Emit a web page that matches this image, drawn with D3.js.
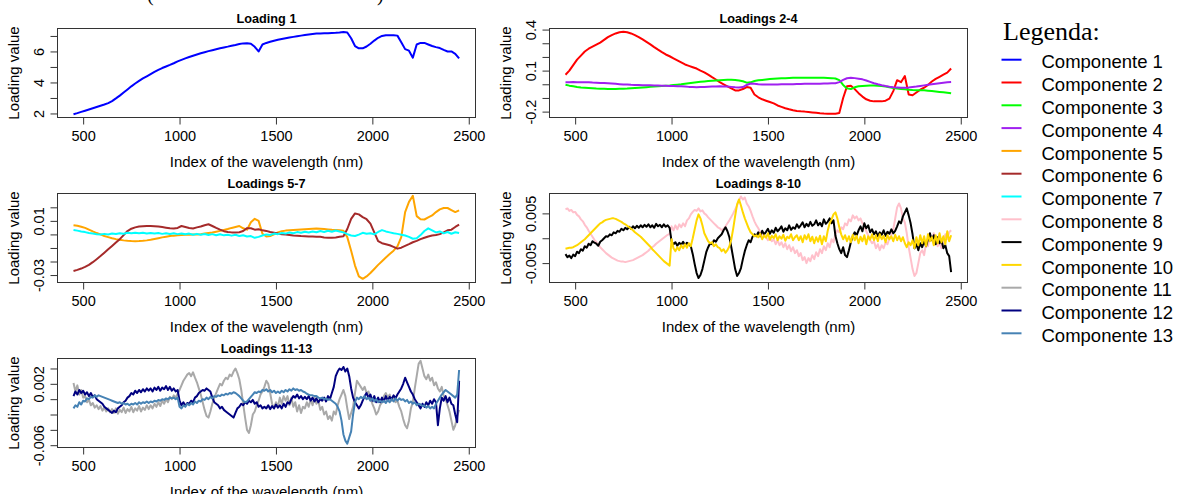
<!DOCTYPE html>
<html>
<head>
<meta charset="utf-8">
<script src="https://cdn.jsdelivr.net/npm/d3@7"></script>
<style>
  html, body { margin: 0; padding: 0; background: #fff; }
  svg { display: block; }
  text { font-family: "Liberation Sans", Arial, sans-serif; fill: #000; }
</style>
</head>
<body>
<script>
// Wavelength grids (nm): 20 nm steps for the smooth loadings, 10 nm for the noisy ones
const wavelengths = d3.range(450, 2451, 20);
const wavelengthsFine = d3.range(450, 2451, 10);

const comp1 = [1.95,2.02,2.10,2.18,2.26,2.34,2.42,2.50,2.58,2.67,
2.80,2.97,3.15,3.35,3.55,3.75,3.93,4.10,4.26,4.40,
4.54,4.68,4.81,4.93,5.03,5.13,5.24,5.36,5.46,5.55,
5.64,5.72,5.80,5.88,5.95,6.02,6.08,6.14,6.20,6.26,
6.31,6.37,6.42,6.48,6.52,6.53,6.50,6.30,6.00,6.45,
6.55,6.62,6.69,6.75,6.80,6.85,6.90,6.94,6.98,7.02,
7.06,7.10,7.13,7.15,7.16,7.17,7.18,7.19,7.20,7.22,
7.26,7.22,6.85,6.35,6.20,6.20,6.32,6.50,6.70,6.88,
7.00,7.05,7.05,7.05,7.02,6.60,6.15,6.05,5.60,6.45,
6.55,6.55,6.45,6.35,6.28,6.22,6.10,6.00,6.00,5.85,
5.55];

const comp2 = [0.070,0.100,0.140,0.180,0.210,0.240,0.260,0.275,0.290,0.305,
0.325,0.345,0.360,0.372,0.380,0.384,0.380,0.372,0.360,0.345,
0.328,0.310,0.292,0.272,0.253,0.235,0.218,0.205,0.190,0.175,
0.160,0.145,0.135,0.125,0.115,0.100,0.087,0.070,0.052,0.035,
0.015,0.000,-0.015,-0.030,-0.045,-0.045,-0.035,-0.020,-0.025,-0.075,
-0.095,-0.110,-0.120,-0.130,-0.140,-0.155,-0.165,-0.175,-0.183,-0.190,
-0.195,-0.198,-0.200,-0.203,-0.206,-0.209,-0.212,-0.214,-0.215,-0.215,
-0.215,-0.210,-0.100,-0.015,-0.010,-0.035,-0.065,-0.090,-0.110,-0.120,
-0.125,-0.125,-0.125,-0.120,-0.105,-0.050,0.030,0.015,0.060,-0.075,
-0.080,-0.060,-0.040,-0.025,-0.005,0.020,0.040,0.055,0.070,0.085,
0.115];

const comp3 = [-0.003,-0.010,-0.015,-0.020,-0.023,-0.025,-0.027,-0.029,-0.031,-0.032,
-0.033,-0.034,-0.034,-0.034,-0.033,-0.032,-0.031,-0.029,-0.027,-0.025,
-0.023,-0.021,-0.019,-0.017,-0.015,-0.013,-0.011,-0.009,-0.006,-0.003,
0.000,0.004,0.008,0.012,0.015,0.018,0.021,0.024,0.026,0.028,
0.030,0.032,0.033,0.033,0.032,0.028,0.022,0.012,0.014,0.024,
0.029,0.032,0.035,0.038,0.040,0.042,0.044,0.045,0.046,0.047,
0.047,0.048,0.048,0.048,0.048,0.048,0.047,0.047,0.046,0.045,
0.042,0.030,-0.005,-0.030,-0.035,-0.022,-0.015,-0.012,-0.010,-0.009,
-0.009,-0.010,-0.012,-0.016,-0.022,-0.027,-0.031,-0.034,-0.037,-0.040,
-0.042,-0.043,-0.043,-0.044,-0.047,-0.050,-0.053,-0.056,-0.059,-0.062,
-0.066];

const comp4 = [0.015,0.015,0.016,0.015,0.015,0.014,0.015,0.013,0.012,0.010,
0.009,0.007,0.005,0.003,0.001,-0.001,-0.002,-0.004,-0.005,-0.006,
-0.007,-0.008,-0.008,-0.009,-0.009,-0.010,-0.011,-0.012,-0.013,-0.014,
-0.015,-0.017,-0.019,-0.020,-0.021,-0.020,-0.019,-0.018,-0.017,-0.016,
-0.015,-0.016,-0.017,-0.019,-0.022,-0.024,-0.020,-0.005,0.006,0.004,
0.001,-0.001,-0.002,-0.002,-0.002,-0.001,0.000,0.000,0.001,0.001,
0.002,0.002,0.003,0.003,0.003,0.004,0.004,0.005,0.006,0.007,
0.008,0.016,0.032,0.044,0.047,0.045,0.041,0.036,0.028,0.018,
0.008,0.000,-0.007,-0.013,-0.018,-0.021,-0.023,-0.025,-0.026,-0.024,
-0.020,-0.017,-0.012,-0.008,-0.004,0.000,0.004,0.008,0.011,0.014,
0.016];

const comp5 = [0.0068,0.0064,0.0057,0.0048,0.0035,0.0022,0.0010,0.0000,-0.0012,-0.0020,
-0.0028,-0.0035,-0.0040,-0.0044,-0.0047,-0.0049,-0.0050,-0.0049,-0.0047,-0.0044,
-0.0040,-0.0034,-0.0028,-0.0022,-0.0017,-0.0012,-0.0009,-0.0007,-0.0005,-0.0003,
-0.0002,0.0000,0.0000,0.0002,0.0006,0.0010,0.0014,0.0020,0.0026,0.0033,
0.0040,0.0048,0.0055,0.0062,0.0045,0.0035,0.0090,0.0115,0.0100,0.0005,
-0.0015,-0.0012,0.0000,0.0015,0.0024,0.0028,0.0030,0.0032,0.0034,0.0036,
0.0038,0.0040,0.0042,0.0043,0.0042,0.0040,0.0037,0.0034,0.0032,0.0030,
0.0027,-0.0020,-0.0120,-0.0230,-0.0310,-0.0328,-0.0310,-0.0285,-0.0255,-0.0225,
-0.0198,-0.0170,-0.0145,-0.0120,-0.0088,-0.0020,0.0165,0.0240,0.0285,0.0135,
0.0112,0.0110,0.0125,0.0140,0.0165,0.0185,0.0195,0.0195,0.0180,0.0165,
0.0178];

const comp6 = [-0.0270,-0.0262,-0.0252,-0.0240,-0.0225,-0.0205,-0.0183,-0.0160,-0.0135,-0.0110,
-0.0085,-0.0060,-0.0035,-0.0005,0.0025,0.0042,0.0052,0.0058,0.0060,0.0062,
0.0062,0.0061,0.0058,0.0054,0.0050,0.0046,0.0044,0.0048,0.0062,0.0055,
0.0048,0.0044,0.0052,0.0058,0.0068,0.0075,0.0062,0.0048,0.0035,0.0024,
0.0018,0.0015,0.0014,0.0016,0.0025,0.0046,0.0045,0.0035,0.0038,0.0030,
0.0026,0.0018,0.0012,0.0006,0.0002,0.0000,-0.0004,-0.0008,-0.0010,-0.0012,
-0.0013,-0.0015,-0.0016,-0.0017,-0.0018,-0.0022,-0.0024,-0.0025,-0.0022,-0.0018,
-0.0014,0.0040,0.0115,0.0155,0.0148,0.0128,0.0112,0.0080,0.0015,-0.0050,
-0.0065,-0.0072,-0.0080,-0.0092,-0.0105,-0.0098,-0.0085,-0.0072,-0.0058,-0.0048,
-0.0035,-0.0025,-0.0015,-0.0008,-0.0005,0.0002,0.0015,0.0030,0.0035,0.0055,
0.0072];

const comp7 = [0.0033,0.0028,0.0022,0.0017,0.0010,0.0006,0.0002,0.0000,0.0004,0.0000,
0.0006,0.0003,0.0009,0.0005,0.0012,0.0008,0.0013,0.0009,0.0012,0.0007,
0.0011,0.0006,0.0010,0.0004,0.0009,0.0003,0.0008,0.0002,0.0007,0.0001,
0.0006,-0.0002,0.0004,-0.0003,0.0003,-0.0004,0.0002,-0.0006,0.0001,-0.0007,
-0.0002,-0.0009,-0.0003,-0.0012,-0.0006,-0.0015,-0.0012,-0.0025,-0.0018,-0.0008,
0.0000,-0.0004,0.0006,0.0002,0.0010,0.0006,0.0014,0.0009,0.0017,0.0012,
0.0020,0.0014,0.0022,0.0016,0.0025,0.0018,0.0027,0.0020,0.0029,0.0022,
0.0015,0.0002,-0.0008,-0.0012,-0.0002,0.0012,0.0005,0.0009,0.0000,0.0018,
0.0032,0.0022,0.0015,0.0008,0.0004,-0.0002,-0.0008,-0.0018,-0.0032,-0.0028,
-0.0005,0.0025,0.0045,0.0030,0.0015,0.0022,0.0008,0.0018,0.0005,0.0016,
0.0010];

// 10 nm loadings (components 8–13)
const comp8 = [0.0058,0.0060,0.0055,0.0057,0.0052,0.0053,0.0047,0.0044,0.0038,0.0034,0.0027,0.0022,0.0015,0.0009,0.0003,-0.0003,-0.0008,-0.0013,-0.0018,-0.0022,
-0.0026,-0.0030,-0.0033,-0.0036,-0.0039,-0.0041,-0.0043,-0.0045,-0.0046,-0.0047,-0.0047,-0.0048,-0.0047,-0.0046,-0.0045,-0.0044,-0.0042,-0.0040,-0.0038,-0.0036,
-0.0034,-0.0031,-0.0028,-0.0025,-0.0021,-0.0018,-0.0015,-0.0011,-0.0008,-0.0005,-0.0002,0.0001,0.0004,0.0007,0.0009,0.0024,0.0016,0.0026,0.0018,0.0028,
0.0022,0.0030,0.0024,0.0036,0.0040,0.0048,0.0053,0.0057,0.0055,0.0060,0.0054,0.0056,0.0050,0.0047,0.0042,0.0038,0.0034,0.0030,0.0026,0.0022,
0.0020,0.0016,0.0019,0.0024,0.0030,0.0036,0.0043,0.0050,0.0058,0.0066,0.0076,0.0084,0.0078,0.0082,0.0070,0.0064,0.0055,0.0044,0.0034,0.0026,
0.0020,0.0012,0.0010,0.0004,0.0002,-0.0004,0.0000,-0.0006,-0.0002,-0.0012,-0.0004,-0.0014,-0.0008,-0.0018,-0.0010,-0.0022,-0.0014,-0.0026,-0.0018,-0.0030,
-0.0024,-0.0036,-0.0030,-0.0044,-0.0038,-0.0050,-0.0040,-0.0046,-0.0034,-0.0042,-0.0028,-0.0036,-0.0022,-0.0030,-0.0016,-0.0024,-0.0010,-0.0018,-0.0002,-0.0008,
0.0008,0.0016,0.0012,0.0022,0.0018,0.0030,0.0026,0.0038,0.0034,0.0046,0.0040,0.0044,0.0036,0.0040,0.0030,0.0024,0.0014,0.0006,-0.0004,-0.0010,
-0.0006,-0.0020,-0.0012,-0.0024,-0.0014,-0.0020,-0.0008,-0.0012,0.0000,0.0006,0.0018,0.0040,0.0062,0.0070,0.0060,0.0040,0.0032,0.0010,-0.0018,-0.0040,
-0.0062,-0.0076,-0.0070,-0.0050,-0.0030,-0.0024,-0.0034,-0.0010,-0.0016,0.0004,-0.0004,0.0010,-0.0006,-0.0016,-0.0008,-0.0020,-0.0004,0.0008,-0.0002,0.0012,
0.0016];

const comp9 = [-0.0032,-0.0038,-0.0035,-0.0040,-0.0033,-0.0036,-0.0027,-0.0030,-0.0022,-0.0025,-0.0016,-0.0019,-0.0011,-0.0014,-0.0006,-0.0009,-0.0011,-0.0015,-0.0007,-0.0004,
0.0000,0.0004,0.0003,0.0008,0.0006,0.0012,0.0010,0.0015,0.0013,0.0019,0.0016,0.0021,0.0018,0.0023,0.0019,0.0024,0.0020,0.0025,0.0021,0.0026,
0.0022,0.0027,0.0023,0.0028,0.0022,0.0026,0.0021,0.0029,0.0024,0.0027,0.0022,0.0028,0.0023,0.0026,0.0021,-0.0006,-0.0012,-0.0008,-0.0015,-0.0009,
-0.0013,-0.0007,-0.0014,-0.0009,-0.0012,-0.0016,-0.0032,-0.0052,-0.0070,-0.0080,-0.0074,-0.0062,-0.0045,-0.0028,-0.0018,-0.0010,-0.0012,-0.0004,-0.0007,0.0000,
0.0004,0.0008,0.0016,0.0022,0.0014,0.0002,-0.0018,-0.0040,-0.0062,-0.0076,-0.0070,-0.0060,-0.0042,-0.0026,-0.0014,-0.0004,-0.0008,0.0003,0.0008,0.0004,
0.0012,0.0004,0.0015,0.0008,0.0013,0.0019,0.0009,0.0016,0.0011,0.0021,0.0014,0.0018,0.0024,0.0013,0.0020,0.0016,0.0026,0.0017,0.0022,0.0019,
0.0028,0.0021,0.0026,0.0032,0.0022,0.0029,0.0024,0.0033,0.0025,0.0028,0.0036,0.0026,0.0031,0.0024,0.0038,0.0029,0.0033,0.0040,0.0030,0.0036,
0.0005,-0.0010,-0.0022,-0.0030,-0.0018,-0.0034,-0.0038,-0.0024,-0.0008,0.0004,0.0012,0.0006,0.0016,0.0024,0.0014,0.0030,0.0020,0.0026,0.0012,0.0018,
0.0008,0.0014,0.0004,0.0012,0.0007,0.0016,0.0005,0.0013,0.0009,0.0018,0.0010,0.0015,0.0024,0.0034,0.0030,0.0044,0.0052,0.0060,0.0046,0.0030,
0.0008,-0.0020,-0.0012,-0.0024,-0.0010,-0.0018,-0.0006,-0.0016,-0.0002,0.0010,-0.0004,0.0006,-0.0012,0.0002,-0.0010,-0.0004,-0.0020,-0.0014,-0.0030,-0.0036,
-0.0068];

const comp10 = [-0.0021,-0.0020,-0.0019,-0.0019,-0.0018,-0.0016,-0.0014,-0.0011,-0.0008,-0.0005,-0.0002,0.0002,0.0006,0.0010,0.0014,0.0018,0.0022,0.0026,0.0030,0.0032,
0.0035,0.0037,0.0038,0.0039,0.0040,0.0040,0.0039,0.0037,0.0035,0.0033,0.0030,0.0028,0.0025,0.0022,0.0019,0.0016,0.0012,0.0009,0.0006,0.0003,
-0.0001,-0.0005,-0.0009,-0.0013,-0.0017,-0.0022,-0.0026,-0.0030,-0.0034,-0.0038,-0.0042,-0.0046,-0.0049,-0.0052,-0.0055,-0.0002,-0.0020,-0.0026,-0.0018,-0.0024,
-0.0014,-0.0020,-0.0012,-0.0019,-0.0010,-0.0016,0.0000,0.0018,0.0036,0.0048,0.0040,0.0026,0.0010,0.0002,-0.0006,-0.0010,-0.0008,-0.0016,-0.0012,-0.0018,
-0.0020,-0.0026,-0.0022,-0.0029,-0.0024,-0.0016,-0.0002,0.0020,0.0045,0.0068,0.0078,0.0066,0.0052,0.0040,0.0030,0.0020,0.0012,0.0008,0.0004,0.0006,
0.0002,0.0009,-0.0002,0.0006,0.0001,0.0010,-0.0003,0.0005,0.0000,0.0008,-0.0004,0.0004,-0.0001,0.0007,-0.0005,0.0003,0.0000,0.0008,-0.0004,0.0002,
0.0006,-0.0004,0.0004,-0.0008,0.0006,-0.0002,0.0008,-0.0006,0.0003,-0.0010,0.0002,-0.0007,0.0005,-0.0012,0.0004,-0.0006,0.0015,0.0030,0.0038,0.0048,
0.0052,0.0040,0.0022,0.0008,-0.0002,0.0006,-0.0006,0.0004,-0.0008,0.0007,-0.0004,0.0005,-0.0010,0.0003,-0.0006,0.0006,-0.0012,0.0004,-0.0003,0.0008,
-0.0004,0.0006,-0.0006,0.0008,-0.0002,0.0005,-0.0008,0.0006,-0.0002,0.0004,-0.0006,0.0007,-0.0004,0.0004,-0.0006,0.0002,-0.0010,-0.0018,-0.0008,-0.0014,
-0.0004,-0.0020,0.0002,-0.0014,0.0006,-0.0010,0.0004,-0.0016,0.0008,-0.0006,0.0002,-0.0014,0.0006,-0.0010,0.0010,-0.0008,0.0004,-0.0012,0.0014,-0.0006,
0.0006];

const comp11 = [0.0021,0.0010,0.0018,0.0006,0.0012,0.0002,0.0004,-0.0004,-0.0001,-0.0008,-0.0005,-0.0011,-0.0008,-0.0013,-0.0009,-0.0015,-0.0011,-0.0016,-0.0012,-0.0017,
-0.0013,-0.0018,-0.0012,-0.0019,-0.0014,-0.0017,-0.0011,-0.0018,-0.0013,-0.0016,-0.0010,-0.0017,-0.0012,-0.0015,-0.0009,-0.0016,-0.0011,-0.0014,-0.0008,-0.0013,
-0.0008,-0.0012,-0.0006,-0.0010,-0.0004,-0.0009,-0.0002,-0.0006,0.0000,-0.0004,0.0003,0.0000,0.0005,0.0002,0.0007,0.0012,0.0018,0.0024,0.0028,0.0032,
0.0034,0.0030,0.0035,0.0028,0.0022,0.0014,0.0006,-0.0004,-0.0014,-0.0022,-0.0024,-0.0016,-0.0006,0.0002,0.0008,0.0014,0.0020,0.0018,0.0024,0.0028,
0.0026,0.0032,0.0030,0.0036,0.0040,0.0034,0.0026,0.0012,-0.0006,-0.0024,-0.0040,-0.0044,-0.0034,-0.0020,-0.0016,-0.0008,-0.0002,0.0006,0.0010,0.0016,
0.0024,0.0020,0.0008,-0.0006,-0.0012,-0.0004,-0.0010,0.0002,-0.0006,0.0004,-0.0002,0.0004,-0.0008,0.0002,-0.0010,-0.0004,-0.0016,-0.0008,-0.0018,-0.0010,
-0.0012,-0.0004,-0.0010,0.0000,-0.0008,0.0002,-0.0006,-0.0002,-0.0014,-0.0010,-0.0020,-0.0016,-0.0026,-0.0022,-0.0028,-0.0016,-0.0020,-0.0008,0.0000,0.0006,
0.0012,0.0004,-0.0012,-0.0026,-0.0018,-0.0010,0.0008,0.0024,0.0020,0.0016,0.0012,0.0016,0.0008,0.0010,0.0002,-0.0006,-0.0012,-0.0020,-0.0016,-0.0008,
-0.0004,0.0004,0.0008,0.0002,0.0006,-0.0002,0.0004,-0.0004,-0.0002,-0.0010,-0.0016,-0.0026,-0.0034,-0.0038,-0.0028,-0.0012,-0.0004,0.0014,0.0030,0.0046,
0.0050,0.0040,0.0030,0.0026,0.0032,0.0024,0.0028,0.0018,0.0022,0.0014,0.0010,0.0016,0.0004,0.0000,-0.0008,-0.0016,-0.0028,-0.0040,-0.0034,-0.0022,
-0.0014];

const comp12 = [0.0004,0.0010,0.0006,0.0012,0.0008,0.0011,0.0006,0.0009,0.0004,0.0008,0.0003,0.0005,0.0000,-0.0002,-0.0004,-0.0006,-0.0010,-0.0012,-0.0014,-0.0016,
-0.0018,-0.0015,-0.0017,-0.0012,-0.0010,-0.0008,-0.0004,-0.0002,0.0002,0.0004,0.0008,0.0006,0.0011,0.0008,0.0012,0.0009,0.0013,0.0010,0.0014,0.0011,
0.0014,0.0010,0.0015,0.0012,0.0016,0.0011,0.0015,0.0013,0.0017,0.0012,0.0016,0.0011,0.0014,0.0010,0.0012,-0.0002,-0.0008,-0.0004,-0.0009,-0.0005,
-0.0006,-0.0002,-0.0004,0.0002,0.0004,0.0008,0.0010,0.0012,0.0011,0.0014,0.0012,0.0010,0.0002,-0.0004,-0.0006,-0.0008,-0.0012,-0.0010,-0.0014,-0.0016,
-0.0018,-0.0020,-0.0022,-0.0024,-0.0018,-0.0012,-0.0010,-0.0006,-0.0008,-0.0004,-0.0006,-0.0002,-0.0004,-0.0001,-0.0006,-0.0004,-0.0010,-0.0008,-0.0012,-0.0010,
-0.0012,-0.0008,-0.0013,-0.0009,-0.0012,-0.0007,-0.0011,-0.0008,-0.0012,-0.0006,-0.0010,-0.0004,-0.0006,0.0000,0.0004,0.0002,0.0006,0.0001,0.0004,0.0000,
0.0003,0.0000,0.0004,-0.0002,0.0002,-0.0003,0.0001,-0.0004,0.0000,-0.0002,0.0002,-0.0003,0.0004,0.0000,0.0008,0.0016,0.0030,0.0036,0.0040,0.0038,
0.0042,0.0036,0.0040,0.0030,0.0014,0.0002,-0.0004,-0.0008,-0.0012,-0.0008,-0.0002,0.0004,0.0008,0.0002,0.0006,-0.0002,0.0004,-0.0004,0.0002,-0.0004,
0.0002,-0.0003,0.0004,-0.0002,0.0003,0.0000,0.0005,0.0001,0.0006,0.0010,0.0014,0.0020,0.0028,0.0022,0.0016,0.0010,0.0006,0.0000,-0.0004,-0.0008,
-0.0012,-0.0006,-0.0010,-0.0004,-0.0008,-0.0002,-0.0006,0.0000,-0.0004,-0.0034,-0.0012,0.0002,-0.0002,0.0004,-0.0004,0.0002,-0.0006,-0.0008,-0.0020,-0.0030,
0.0024];

const comp13 = [-0.0012,-0.0008,-0.0010,-0.0004,-0.0007,-0.0002,-0.0003,0.0001,0.0000,0.0003,0.0002,0.0005,0.0003,0.0005,0.0004,0.0003,0.0002,0.0001,0.0000,-0.0001,
-0.0002,-0.0003,-0.0004,-0.0005,-0.0004,-0.0006,-0.0005,-0.0007,-0.0006,-0.0008,-0.0006,-0.0007,-0.0005,-0.0007,-0.0004,-0.0006,-0.0004,-0.0005,-0.0003,-0.0005,
-0.0003,-0.0004,-0.0002,-0.0003,-0.0001,-0.0002,0.0000,-0.0001,0.0001,0.0000,0.0002,0.0001,0.0002,0.0000,0.0002,-0.0010,-0.0012,-0.0008,-0.0010,-0.0006,
-0.0008,-0.0005,-0.0007,-0.0003,-0.0005,-0.0002,-0.0003,0.0000,-0.0001,0.0002,0.0000,0.0003,0.0001,0.0004,0.0003,0.0005,0.0004,0.0006,0.0005,0.0007,
0.0006,0.0008,0.0007,0.0009,0.0008,0.0006,0.0004,0.0001,-0.0002,-0.0004,-0.0003,0.0000,0.0003,0.0006,0.0009,0.0008,0.0010,0.0009,0.0012,0.0011,
0.0013,0.0010,0.0012,0.0009,0.0011,0.0008,0.0010,0.0008,0.0011,0.0009,0.0012,0.0010,0.0013,0.0011,0.0014,0.0012,0.0013,0.0011,0.0012,0.0010,
0.0009,0.0007,0.0006,0.0005,0.0005,0.0004,0.0004,0.0002,0.0001,0.0002,0.0000,0.0001,-0.0001,0.0000,-0.0002,-0.0004,-0.0006,-0.0010,-0.0016,-0.0028,
-0.0046,-0.0054,-0.0058,-0.0050,-0.0042,-0.0020,-0.0004,0.0002,0.0000,0.0003,0.0001,0.0004,0.0000,0.0002,-0.0002,0.0001,-0.0003,0.0000,-0.0004,-0.0002,
-0.0004,-0.0002,-0.0005,-0.0001,-0.0004,0.0000,-0.0003,0.0001,-0.0002,0.0001,-0.0001,0.0000,-0.0003,-0.0001,-0.0005,-0.0003,-0.0006,-0.0004,-0.0008,-0.0006,
-0.0007,-0.0009,-0.0008,-0.0011,-0.0009,-0.0012,-0.0010,-0.0012,-0.0006,-0.0002,0.0002,0.0006,0.0009,0.0012,0.0010,0.0008,0.0006,0.0004,0.0002,0.0006,
0.0038];

const components = [comp1, comp2, comp3, comp4, comp5, comp6, comp7,
                    comp8, comp9, comp10, comp11, comp12, comp13];
const componentGrids = components.map((_, i) => i < 7 ? wavelengths : wavelengthsFine);
const componentNames = components.map((_, i) => "Componente " + (i + 1));
const componentColors = ["#0000FF", "#FF0000", "#00FF00", "#A020F0", "#FFA500",
  "#A52A2A", "#00FFFF", "#FFC0CB", "#000000", "#FFD700", "#A9A9A9", "#000080", "#4682B4"];

// Axis ticks
const xTicks = [500, 1000, 1500, 2000, 2500];
const yTicks1 = [2, 3, 4, 5, 6, 7];
const yLabels1 = ["2", "", "4", "", "6", ""];
const yTicks2 = [-0.2, -0.1, 0, 0.1, 0.2, 0.3, 0.4];
const yLabels2 = ["-0.2", "", "", "0.1", "", "", "0.4"];
const yTicks3 = [-0.03, -0.02, -0.01, 0, 0.01, 0.02];
const yLabels3 = ["-0.03", "", "", "", "0.01", ""];
const yTicks4 = [-0.005, 0, 0.005];
const yLabels4 = ["-0.005", "", "0.005"];
const yTicks5 = [-0.006, -0.004, -0.002, 0, 0.002, 0.004];
const yLabels5 = ["-0.006", "", "", "", "0.002", ""];

const panels = [
  { title: "Loading 1",      comps: [0],         col: 0, row: 0, yDomain: [1.74, 7.48],       yTicks: yTicks1, yLabels: yLabels1 },
  { title: "Loadings 2-4",   comps: [1, 2, 3],   col: 1, row: 0, yDomain: [-0.243, 0.408],    yTicks: yTicks2, yLabels: yLabels2 },
  { title: "Loadings 5-7",   comps: [4, 5, 6],   col: 0, row: 1, yDomain: [-0.0355, 0.0302],  yTicks: yTicks3, yLabels: yLabels3 },
  { title: "Loadings 8-10",  comps: [7, 8, 9],   col: 1, row: 1, yDomain: [-0.0089, 0.0090],  yTicks: yTicks4, yLabels: yLabels4 },
  { title: "Loadings 11-13", comps: [10, 11, 12], col: 0, row: 2, yDomain: [-0.0063, 0.0053], yTicks: yTicks5, yLabels: yLabels5 }
];

const W = 1177, H = 494;
const colX = [57.5, 549.5], rowY = [28.5, 193.5, 358.5];
const boxW = 418, boxH = 89;

const svg = d3.select("body").append("svg")
  .attr("width", W).attr("height", H)
  .attr("viewBox", `0 0 ${W} ${H}`);

svg.append("rect").attr("width", W).attr("height", H).attr("fill", "#fff");

// Bottom edge of a caption line above the figure
svg.append("text").attr("x", 147).attr("y", 0.5)
  .style("font-family", "'Liberation Serif', serif").style("font-size", "20px").text("(");
svg.append("text").attr("x", 377).attr("y", 0.5)
  .style("font-family", "'Liberation Serif', serif").style("font-size", "20px").text(")");

const defs = svg.append("defs");

panels.forEach((p, pi) => {
  const x0 = colX[p.col], y0 = rowY[p.row];
  const g = svg.append("g").attr("transform", `translate(${x0},${y0})`);

  const x = d3.scaleLinear().domain([367, 2535]).range([0, boxW]);
  const y = d3.scaleLinear().domain(p.yDomain).range([boxH, 0]);

  defs.append("clipPath").attr("id", "clip" + pi)
    .append("rect").attr("width", boxW).attr("height", boxH);

  const plot = g.append("g").attr("clip-path", `url(#clip${pi})`);
  p.comps.forEach(ci => {
    const grid = componentGrids[ci];
    const line = d3.line()
      .x((d, i) => x(grid[i]))
      .y(d => y(d));
    plot.append("path")
      .datum(components[ci])
      .attr("d", line)
      .attr("fill", "none")
      .attr("stroke", componentColors[ci])
      .attr("stroke-width", 2)
      .attr("stroke-linejoin", "round");
  });

  // Frame
  g.append("rect").attr("width", boxW).attr("height", boxH)
    .attr("fill", "none").attr("stroke", "#333").attr("stroke-width", 1);

  // X axis
  const xa = g.append("g").attr("transform", `translate(0,${boxH})`)
    .call(d3.axisBottom(x).tickValues(xTicks).tickSize(7).tickFormat(d3.format("d")));
  xa.select(".domain").remove();
  xa.selectAll(".tick line").attr("stroke", "#333");
  xa.selectAll(".tick text").attr("y", 23).attr("dy", null)
    .style("font-size", "14.5px").style("font-family", "'Liberation Sans', Arial, sans-serif")
    .attr("fill", "#000");

  // Y axis with rotated labels
  const ya = g.append("g")
    .call(d3.axisLeft(y).tickValues(p.yTicks).tickSize(7)
      .tickFormat((d, i) => p.yLabels[i]));
  ya.select(".domain").remove();
  ya.selectAll(".tick line").attr("stroke", "#333");
  ya.selectAll(".tick text")
    .attr("x", null).attr("dy", null)
    .attr("text-anchor", "middle")
    .attr("transform", "translate(-13.5,0) rotate(-90)")
    .style("font-size", "14.5px").style("font-family", "'Liberation Sans', Arial, sans-serif")
    .attr("fill", "#000");

  // Titles
  g.append("text").attr("x", boxW / 2).attr("y", -5.5)
    .attr("text-anchor", "middle")
    .style("font-weight", "bold").style("font-size", "12.7px")
    .text(p.title);

  g.append("text").attr("x", boxW / 2).attr("y", boxH + 49.5)
    .attr("text-anchor", "middle").style("font-size", "15px")
    .text("Index of the wavelength (nm)");

  g.append("text")
    .attr("transform", `translate(-38.5,${boxH / 2}) rotate(-90)`)
    .attr("text-anchor", "middle").style("font-size", "15px")
    .text("Loading value");
});

// Legend
const legend = svg.append("g");
legend.append("text").attr("x", 1003).attr("y", 40)
  .style("font-family", "'Liberation Serif', 'Times New Roman', serif")
  .style("font-size", "26px").text("Legenda:");

componentNames.forEach((name, i) => {
  const cy = 61.7 + i * 22.8;
  legend.append("line")
    .attr("x1", 1001.5).attr("x2", 1021.5)
    .attr("y1", cy - 2).attr("y2", cy - 2)
    .attr("stroke", componentColors[i]).attr("stroke-width", 2);
  legend.append("text").attr("x", 1041.5).attr("y", cy + 6.6)
    .style("font-size", "18.5px").attr("fill", "#111")
    .text(name);
});
</script>
</body>
</html>
